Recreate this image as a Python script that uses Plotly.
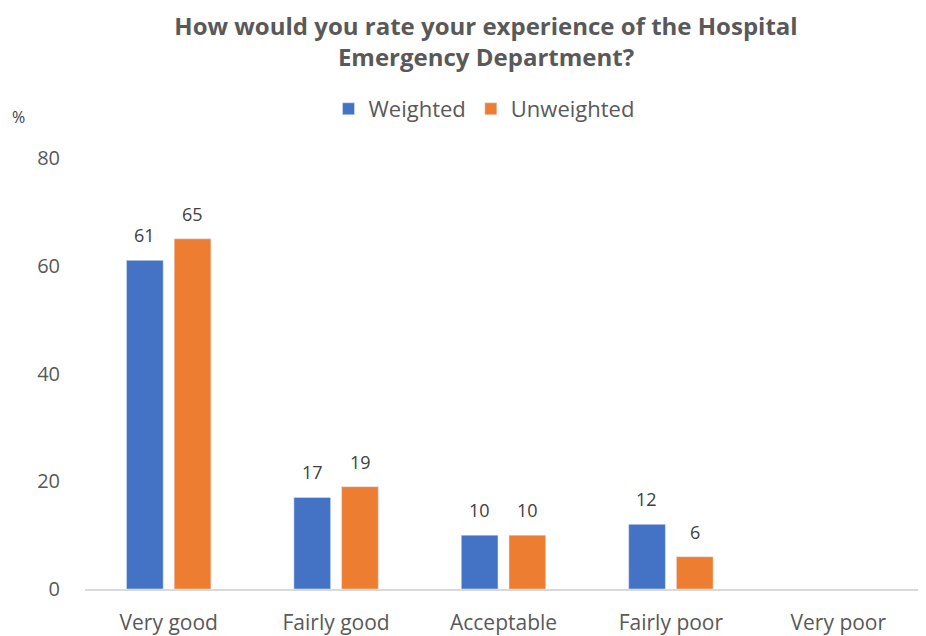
import plotly.graph_objects as go

categories = ["Very good", "Fairly good", "Acceptable", "Fairly poor", "Very poor"]
weighted = [61, 17, 10, 12, None]
unweighted = [65, 19, 10, 6, None]
y_ticks = [0, 20, 40, 60, 80]

FONT = "Open Sans, sans-serif"
GREY = "#595959"

W, H = 926, 636
OFF = 8  # page body margin offset in the browser
ML, MR, MT, MB = 85 - OFF, 4 + OFF, 158 - OFF, 47 + OFF

fig = go.Figure()
fig.add_trace(go.Bar(name="Weighted", x=categories, y=weighted, marker_color="#4472C4"))
fig.add_trace(go.Bar(name="Unweighted", x=categories, y=unweighted, marker_color="#ED7D31"))

# data labels, placed at each bar's value through the axes
labels = []
for series, shift in ((weighted, -24), (unweighted, 24)):
    for cat, val in zip(categories, series):
        if val is None:
            continue
        labels.append(dict(x=cat, y=val, xref="x", yref="y", text=str(val), showarrow=False,
                           xshift=shift, yshift=11, yanchor="bottom", xanchor="center",
                           font=dict(size=18, color="#404040", family=FONT)))

labels.append(dict(text="%", xref="paper", yref="paper", showarrow=False,
                   x=(18 - 85) / (W - ML - MR), y=(589 - 117) / (H - MT - MB),
                   xanchor="center", yanchor="middle",
                   font=dict(size=16, color="#404040")))

fig.update_layout(
    width=W, height=H,
    paper_bgcolor="white", plot_bgcolor="white",
    margin=dict(l=ML, r=MR, t=MT, b=MB, autoexpand=False),
    barmode="group", bargap=0.43, bargroupgap=0.23,
    font=dict(family=FONT, color=GREY, size=18),
    title=dict(text="<b>How would you rate your experience of the Hospital<br>Emergency Department?</b>",
               x=(486 - OFF) / W, xanchor="center", xref="container",
               y=1 - (35 - OFF) / H, yanchor="middle",
               font=dict(size=24, color=GREY, family=FONT)),
    legend=dict(orientation="h", x=(484 - OFF) / W, xanchor="center", xref="container",
                y=1 - (109 - OFF) / H, yref="container", yanchor="middle",
                font=dict(size=22, color=GREY), itemwidth=30, traceorder="normal"),
    showlegend=True,
    xaxis=dict(showline=True, linecolor="#D9D9D9", linewidth=1.5, ticks="", automargin=False,
               tickfont=dict(size=21, color=GREY), ticklabelstandoff=14, fixedrange=True),
    yaxis=dict(range=[0, 80], tickvals=y_ticks, showgrid=False, zeroline=False, automargin=False,
               showline=False, ticks="", tickfont=dict(size=20, color=GREY),
               ticklabelstandoff=24),
    annotations=labels,
)

fig.write_html("out.html")
